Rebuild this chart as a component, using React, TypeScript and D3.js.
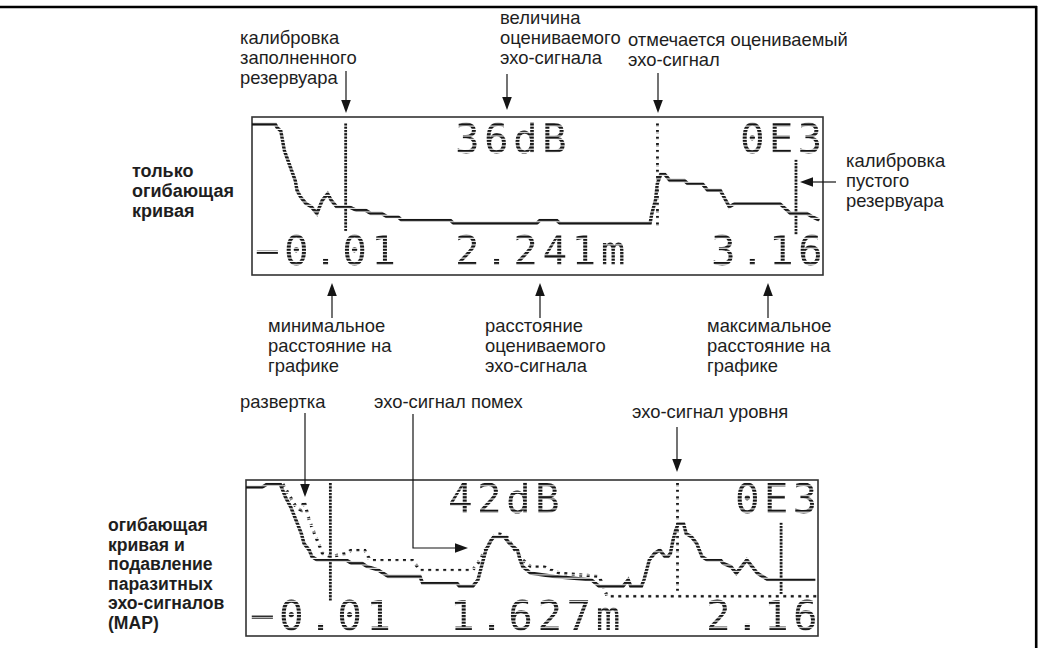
import React from "react";
import * as d3 from "d3";

// ---------- data ----------
const topDistanceRange: [number, number] = [-0.01, 3.16];
const bottomDistanceRange: [number, number] = [-0.01, 2.16];
const levelRange: [number, number] = [0, 60];

// envelope curve, top display: [distance m, level dB]
const topEnvelope: [number, number][] = [
  [-0.01, 58.5], [0.06, 58.5], [0.08, 59.7], [0.12, 59.7], [0.13, 58], [0.15, 56], [0.16, 52.8],
  [0.17, 48], [0.19, 44.8], [0.21, 40.8], [0.23, 36.8], [0.24, 32.8], [0.26, 29.6], [0.29, 27.6],
  [0.32, 25.6], [0.35, 23.6], [0.38, 28.8], [0.41, 31.6], [0.43, 28.8], [0.46, 26], [0.53, 26],
  [0.57, 24.4], [0.62, 24.4], [0.65, 23.6], [0.71, 23.6], [0.74, 22.4], [0.8, 22.4], [0.82, 20.8],
  [1.09, 20.8], [1.11, 19.2], [1.57, 19.2], [1.59, 20.8], [1.68, 20.8], [1.7, 18.8], [2.2, 18.8],
  [2.21, 22.8], [2.23, 28.8], [2.24, 34.8], [2.26, 39.6], [2.28, 39.6], [2.31, 36.8], [2.39, 36],
  [2.41, 34.8], [2.49, 34.8], [2.52, 32.8], [2.59, 32], [2.62, 28.8], [2.64, 26], [2.67, 28],
  [2.89, 28], [2.92, 26.8], [2.98, 23.6], [3.07, 23.6], [3.1, 22], [3.14, 20.8],
];

// envelope curve, bottom display
const bottomEnvelope: [number, number][] = [
  [-0.01, 58.4], [0.05, 58.4], [0.07, 60], [0.12, 60], [0.14, 55.6], [0.16, 50.8], [0.18, 45.6],
  [0.2, 40.8], [0.21, 36.8], [0.23, 33.6], [0.24, 31.2], [0.26, 29.6], [0.37, 29.6], [0.39, 28.4],
  [0.43, 28.4], [0.45, 26.8], [0.49, 25.6], [0.53, 23.6], [0.56, 22.8], [0.65, 22.8], [0.66, 20.8],
  [0.79, 20.8], [0.8, 19.6], [0.85, 19.6], [0.87, 21.6], [0.88, 25.6], [0.89, 29.6], [0.9, 33.6],
  [0.92, 37.6], [0.93, 38.8], [0.97, 38.8], [0.99, 36.8], [1.02, 33.6], [1.03, 30.4], [1.04, 26.8],
  [1.07, 24.8], [1.16, 22.8], [1.3, 21.6], [1.33, 19.6], [1.42, 19.6], [1.44, 21.6], [1.45, 19.6],
  [1.49, 19.6], [1.5, 21.6], [1.51, 25.6], [1.52, 29.6], [1.54, 32.8], [1.56, 33.6], [1.58, 30.8],
  [1.59, 30.8], [1.6, 32.8], [1.61, 38.4], [1.62, 41.6], [1.63, 44.4], [1.65, 44.4], [1.66, 40.8],
  [1.68, 38.8], [1.7, 36.8], [1.71, 34.4], [1.72, 30.8], [1.74, 29.6], [1.79, 29.6], [1.8, 28.4],
  [1.83, 26.8], [1.85, 24.8], [1.87, 26.8], [1.89, 29.6], [1.91, 26.8], [1.93, 24.8], [1.95, 22.8],
  [1.97, 21.6], [2.15, 21.6],
];

// interference-echo suppression (MAP) curve, bottom display
const bottomMapCurve: [number, number][] = [
  [0.13, 60], [0.18, 51.6], [0.2, 49.6], [0.21, 53.6], [0.23, 45.6], [0.26, 37.6], [0.28, 32.8],
  [0.31, 31.6], [0.37, 32.8], [0.39, 33.6], [0.44, 33.6], [0.46, 29.6], [0.62, 29.6], [0.65, 26],
  [0.85, 26], [0.87, 28.4], [0.89, 32.8], [0.92, 37.6], [0.94, 40.8], [0.95, 40.8], [0.98, 38.8],
  [1.01, 33.6], [1.04, 29.6], [1.07, 26.8], [1.12, 26.8], [1.18, 24.8], [1.33, 23.6], [1.36, 15.2],
  [2.16, 15.2],
];

const topMarkers = { fullCal: 0.51, emptyCal: 3.01, echo: 2.241 };
const bottomMarkers = { fullCal: 0.31, emptyCal: 2.02, echo: 1.627 };

const topReadouts = ["36dB", "0E3", "−0.01", "2.241m", "3.16"];
const bottomReadouts = ["42dB", "0E3", "−0.01", "1.627m", "2.16"];

// ---------- rendering ----------
const INK = "#151515";
const LABEL_FONT = "'Liberation Sans', Arial, sans-serif";
const LCD_FONT = "'DejaVu Sans Mono', monospace";
const ROW = 3.3;
const LIT = 2.2;

type PanelProps = {
  id: string;
  x0: number; y0: number; x1: number; y1: number;
  domain: [number, number];
  envelope: [number, number][];
  map?: [number, number][];
  markers: { fullCal: number; emptyCal: number; echo: number };
  readouts: string[];
  calSpan: [number, number];
  emptySpan: [number, number];
  echoSpan: [number, number];
  topBase: number; bottomBase: number;
  readX: number[]; cell: number;
};

function Panel(p: PanelProps) {
  const x = d3.scaleLinear().domain(p.domain).range([p.x0, p.x1]);
  const y = d3.scaleLinear().domain(levelRange).range([p.y0 + 155, p.y0 + 5]);
  const gridTop = p.y0 + 3;
  const snap = (v: number) => gridTop + Math.round((v - gridTop - LIT / 2) / ROW) * ROW + LIT / 2;
  const rowTop = (v: number) => gridTop + Math.round((v - gridTop) / ROW) * ROW;
  const line = d3.line<[number, number]>().x((d) => x(d[0])).y((d) => snap(y(d[1])));
  const w = p.x1 - p.x0, h = p.y1 - p.y0;
  const maskUrl = `url(#mask-${p.id})`;
  const lcdText = (s: string, i: number, base: number) => (
    <text key={i} x={p.readX[i]} y={base} fontFamily={LCD_FONT} fontSize={41} fill={INK}
      textLength={s.length * p.cell - 6} lengthAdjust="spacing">{s}</text>
  );
  const seg = (span: [number, number]) => [rowTop(y(span[1])), rowTop(y(span[0]))];
  const [c1, c2] = seg(p.calSpan);
  const [e1, e2] = seg(p.emptySpan);
  const [m1, m2] = seg(p.echoSpan);
  return (
    <g>
      <defs>
        <pattern id={`rows-${p.id}`} patternUnits="userSpaceOnUse" x={0} y={gridTop} width={10} height={ROW}>
          <rect x={0} y={0} width={10} height={LIT} fill="white" />
        </pattern>
        <mask id={`mask-${p.id}`} maskUnits="userSpaceOnUse" x={p.x0} y={p.y0} width={w} height={h}>
          <rect x={p.x0} y={p.y0} width={w} height={h} fill={`url(#rows-${p.id})`} />
        </mask>
      </defs>
      <rect x={p.x0} y={p.y0} width={w} height={h} fill="white" stroke="#333" strokeWidth={1.6} />
      <g mask={maskUrl}>
        {lcdText(p.readouts[0], 0, p.topBase)}
        {lcdText(p.readouts[1], 1, p.topBase)}
        {lcdText(p.readouts[2], 2, p.bottomBase)}
        {lcdText(p.readouts[3], 3, p.bottomBase)}
        {lcdText(p.readouts[4], 4, p.bottomBase)}
        <line x1={x(p.markers.fullCal)} x2={x(p.markers.fullCal)} y1={c1} y2={c2 + LIT} stroke={INK} strokeWidth={2.8} />
        <line x1={x(p.markers.emptyCal)} x2={x(p.markers.emptyCal)} y1={e1} y2={e2 + LIT} stroke={INK} strokeWidth={2.8} />
        <line x1={x(p.markers.echo)} x2={x(p.markers.echo)} y1={m1} y2={m2 + LIT} stroke={INK} strokeWidth={2.8}
          strokeDasharray={`${ROW} ${ROW}`} />
        {p.map && (
          <path d={line(p.map) || ""} fill="none" stroke={INK} strokeWidth={3.2} strokeDasharray="3 4.5" />
        )}
        <path d={line(p.envelope) || ""} fill="none" stroke={INK} strokeWidth={3.4} strokeLinejoin="miter" />
      </g>
    </g>
  );
}

function Arrow({ pts }: { pts: [number, number][] }) {
  const n = pts.length;
  const [ax, ay] = pts[n - 2];
  const [bx, by] = pts[n - 1];
  const ang = Math.atan2(by - ay, bx - ax);
  const L = 13, W = 4.8;
  const hx = bx - L * Math.cos(ang), hy = by - L * Math.sin(ang);
  const px = -Math.sin(ang) * W, py = Math.cos(ang) * W;
  const shaft = pts.slice(0, n - 1).concat([[hx, hy]]);
  return (
    <g>
      <polyline points={shaft.map((q) => q.join(",")).join(" ")} fill="none" stroke={INK} strokeWidth={1.2} />
      <path d={`M${bx},${by}L${hx + px},${hy + py}L${hx - px},${hy - py}Z`} fill={INK} />
    </g>
  );
}

function Label({ x, y, lines, bold, lh = 20, size = 18.4 }: { x: number; y: number; lines: string[]; bold?: boolean; lh?: number; size?: number }) {
  return (
    <text x={x} y={y} fontFamily={LABEL_FONT} fontSize={size} fontWeight={bold ? 700 : 400} fill="#1e1e1e">
      {lines.map((l, i) => (
        <tspan key={i} x={x} dy={i === 0 ? 0 : lh}>{l}</tspan>
      ))}
    </text>
  );
}

export default function App() {
  return (
    <svg width={1038} height={648} style={{ position: "absolute", left: 0, top: 0, background: "white" }}>
      <rect x={0} y={0} width={1038} height={648} fill="white" />
      {/* frame */}
      <line x1={0} x2={1037} y1={7} y2={7} stroke="#000" strokeWidth={2.4} />
      <line x1={1036.2} x2={1036.2} y1={6} y2={648} stroke="#000" strokeWidth={2.6} />

      <Panel id="top" x0={252} y0={117} x1={823} y1={275} domain={topDistanceRange}
        envelope={topEnvelope} markers={topMarkers} readouts={topReadouts}
        calSpan={[16.8, 59.6]} emptySpan={[16, 45.6]} echoSpan={[18, 59.6]}
        topBase={153} bottomBase={265} readX={[455, 740, 255, 455, 711]} cell={29.4} />

      <Panel id="bottom" x0={246} y0={480} x1={818} y1={636} domain={bottomDistanceRange}
        envelope={bottomEnvelope} map={bottomMapCurve} markers={bottomMarkers} readouts={bottomReadouts}
        calSpan={[14.8, 60.4]} emptySpan={[17.6, 44.8]} echoSpan={[17.6, 60.4]}
        topBase={513} bottomBase={630} readX={[448, 735, 250, 450, 706]} cell={29.4} />

      {/* annotations: top display */}
      <Label x={240} y={44} lines={["калибровка", "заполненного", "резервуара"]} />
      <Arrow pts={[[346, 71], [346, 113]]} />
      <Label x={500} y={24} lines={["величина", "оцениваемого", "эхо-сигнала"]} />
      <Arrow pts={[[507, 74], [507, 110]]} />
      <Label x={628} y={46} lines={["отмечается оцениваемый", "эхо-сигнал"]} />
      <Arrow pts={[[658, 73], [658, 113]]} />
      <Label x={846} y={167} lines={["калибровка", "пустого", "резервуара"]} />
      <Arrow pts={[[836, 182], [800, 182]]} />
      <Label x={132} y={177} lines={["только", "огибающая", "кривая"]} bold size={18} />

      <Arrow pts={[[332, 318], [332, 283]]} />
      <Arrow pts={[[540, 318], [540, 283]]} />
      <Arrow pts={[[768, 318], [768, 283]]} />
      <Label x={268} y={332} lines={["минимальное", "расстояние на", "графике"]} />
      <Label x={485} y={332} lines={["расстояние", "оцениваемого", "эхо-сигнала"]} />
      <Label x={707} y={332} lines={["максимальное", "расстояние на", "графике"]} />

      {/* annotations: bottom display */}
      <Label x={240} y={408} lines={["развертка"]} />
      <Arrow pts={[[305, 413], [305, 497]]} />
      <Label x={374} y={408} lines={["эхо-сигнал помех"]} />
      <Arrow pts={[[413, 414], [413, 548], [468, 548]]} />
      <Label x={632} y={418} lines={["эхо-сигнал уровня"]} />
      <Arrow pts={[[677, 427], [677, 472]]} />
      <Label x={108} y={531} lines={["огибающая", "кривая и", "подавление", "паразитных", "эхо-сигналов", "(MAP)"]} bold lh={19.5} size={17.6} />
    </svg>
  );
}
